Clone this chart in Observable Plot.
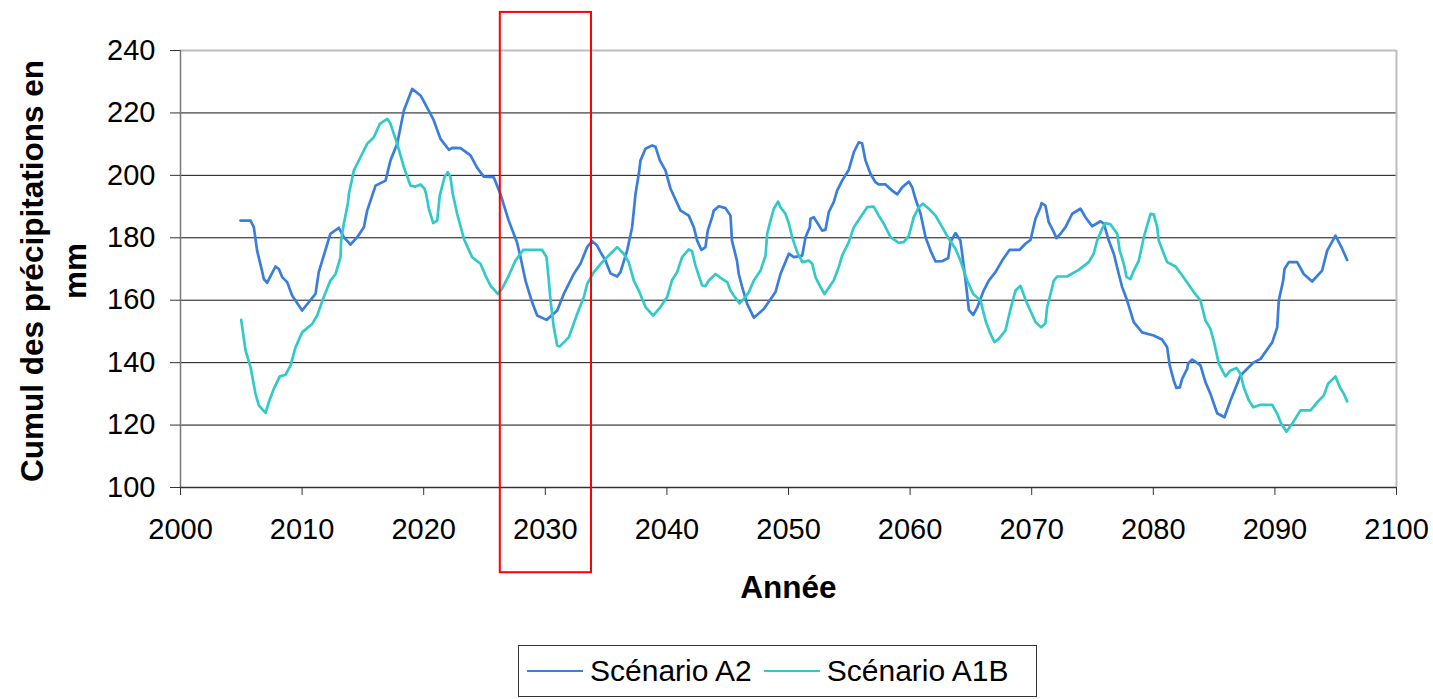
<!DOCTYPE html>
<html>
<head>
<meta charset="utf-8">
<script src="https://cdn.jsdelivr.net/npm/d3@7"></script>
<script src="https://cdn.jsdelivr.net/npm/@observablehq/plot@0.6"></script>
<style>
  body { margin: 0; background: #fff; font-family: "Liberation Sans", Arial, sans-serif; }
  #wrap { position: relative; width: 1433px; height: 699px; }
  #legend { position: absolute; left: 518px; top: 645px; width: 517px; height: 50px; border: 1.5px solid #333; background: #fff;
            display: flex; align-items: center; font-size: 30px; color: #000; }
  .sw { display: inline-block; width: 56px; height: 0; border-top: 2.5px solid; margin-left: 12px; margin-right: 7px; }
  .sw:first-child { margin-left: 8px; }
</style>
</head>
<body>
<div id="wrap"></div>
<script>
const seriesNames = ["Scénario A2", "Scénario A1B"];
const seriesColors = ["#3a7ddc", "#33c9c9"];
const xTicks = [2000, 2010, 2020, 2030, 2040, 2050, 2060, 2070, 2080, 2090, 2100];
const yTicks = [100, 120, 140, 160, 180, 200, 220, 240];
const highlight = [{x1: 2026.3, x2: 2033.8, y1: 72.7, y2: 252.2}];

const a2Years = [2004.93,2005.76,2006.03,2006.3,2006.7,2006.85,2007.13,2007.81,2008.09,2008.36,2008.77,2009.18,2010.0,2011.1,2011.37,2011.78,2012.33,2013.02,2013.43,2013.98,2014.53,2015.08,2015.35,2016.04,2016.86,2017.27,2017.82,2018.37,2019.05,2019.74,2020.56,2020.83,2021.38,2022.07,2022.34,2023.03,2023.85,2024.4,2024.94,2025.76,2026.3,2026.99,2027.67,2027.96,2028.37,2028.91,2029.33,2030.1,2030.98,2031.52,2032.34,2032.89,2033.44,2033.85,2034.26,2034.54,2034.95,2035.36,2035.91,2036.18,2036.73,2037.14,2037.42,2037.69,2037.83,2038.24,2038.79,2039.06,2039.42,2039.88,2040.3,2041.12,2041.8,2042.21,2042.49,2042.84,2043.17,2043.36,2043.72,2043.85,2044.27,2044.82,2045.23,2045.35,2045.76,2045.91,2046.19,2046.6,2047.15,2047.97,2048.93,2049.34,2050.03,2050.44,2051.13,2051.4,2051.75,2051.81,2052.08,2052.77,2053.04,2053.31,2053.72,2054.0,2054.41,2054.96,2055.37,2055.78,2056.05,2056.33,2056.74,2057.15,2057.42,2057.98,2058.53,2058.94,2059.35,2059.9,2060.17,2060.44,2060.86,2061.27,2061.68,2062.09,2062.62,2063.14,2063.32,2063.73,2064.14,2064.41,2064.69,2064.83,2065.19,2065.52,2066.05,2066.47,2067.02,2067.57,2068.17,2068.99,2069.48,2069.9,2070.31,2070.72,2070.81,2071.13,2071.4,2071.82,2072.04,2072.37,2072.78,2073.33,2074.01,2074.42,2074.97,2075.66,2075.93,2076.34,2076.75,2077.16,2077.44,2077.85,2078.39,2079.08,2080.03,2080.72,2081.14,2081.35,2081.68,2081.9,2082.18,2082.37,2082.78,2082.87,2083.2,2083.88,2084.29,2084.7,2085.25,2085.85,2086.35,2087.17,2088.26,2088.82,2089.78,2090.19,2090.32,2090.68,2090.79,2091.14,2091.83,2092.37,2093.06,2093.88,2094.3,2094.98,2095.53,2095.94];
const a2Values = [185.5,185.5,183.4,175.9,169.5,166.8,165.6,170.8,170.0,167.4,165.8,161.5,156.7,162.0,169.0,174.3,181.3,183.2,180.2,177.8,180.2,183.4,188.7,196.7,198.3,204.8,210.1,220.8,227.7,225.6,219.7,217.6,211.7,208.2,208.8,208.7,206.4,202.4,199.6,199.4,194.1,185.5,178.6,173.8,166.3,159.4,155.1,153.7,156.7,162.0,168.4,171.7,177.0,178.9,177.5,175.4,172.7,168.6,167.6,169.0,175.9,183.4,194.1,200.5,204.8,208.5,209.6,209.2,204.8,201.6,195.7,188.7,187.1,183.4,179.1,176.1,177.0,182.3,186.6,188.7,190.1,189.5,187.1,179.1,172.7,168.4,164.2,158.8,154.4,157.2,162.6,168.4,174.9,173.8,174.3,180.2,183.4,186.1,186.6,182.3,182.6,188.2,191.4,195.1,198.3,201.8,207.4,210.6,210.3,204.8,200.5,197.8,197.1,197.1,195.1,193.9,196.2,198.0,196.2,192.5,187.7,180.2,175.9,172.4,172.5,173.5,178.6,181.5,179.1,171.1,162.0,156.9,155.3,157.7,163.1,166.3,169.0,172.7,176.1,176.1,178.1,179.3,186.1,189.8,191.1,190.3,185.0,181.8,179.9,181.3,183.4,187.7,189.3,186.6,183.7,185.3,184.5,179.1,174.9,168.4,164.2,159.9,153.0,149.7,148.7,147.4,144.9,139.1,134.3,131.9,132.1,134.8,138.0,139.8,141.0,139.1,133.7,130.0,123.8,122.5,127.9,135.9,140.1,141.2,146.5,151.3,159.9,166.3,170.0,172.2,172.2,168.4,166.0,169.5,175.9,180.7,176.5,172.9];

const a1bYears = [2004.99,2005.35,2005.76,2006.17,2006.44,2006.99,2007.26,2007.67,2008.17,2008.63,2009.05,2009.46,2010.0,2010.83,2011.24,2011.78,2012.33,2012.75,2013.16,2013.21,2013.43,2013.76,2013.85,2014.26,2014.8,2015.35,2015.9,2016.39,2017.0,2017.27,2017.82,2018.37,2018.91,2019.32,2019.74,2020.07,2020.2,2020.42,2020.78,2021.11,2021.32,2021.71,2021.98,2022.2,2022.39,2022.75,2023.3,2023.98,2024.67,2025.08,2025.49,2026.09,2026.45,2027.0,2027.55,2028.18,2029.74,2030.1,2030.29,2030.43,2030.7,2030.98,2031.19,2031.93,2032.62,2033.17,2033.44,2033.99,2034.68,2035.36,2035.91,2036.45,2036.86,2037.28,2037.69,2038.24,2038.87,2039.47,2040.02,2040.43,2040.84,2041.25,2041.8,2042.07,2042.35,2042.76,2042.9,2043.17,2043.45,2044.0,2044.55,2044.96,2045.23,2045.5,2045.97,2046.33,2046.74,2047.15,2047.7,2048.11,2048.25,2048.52,2048.79,2049.15,2049.34,2049.75,2050.03,2050.3,2050.71,2051.13,2051.67,2051.95,2052.22,2052.63,2052.96,2053.72,2054.13,2054.41,2054.96,2055.37,2055.92,2056.47,2057.01,2057.42,2057.84,2058.39,2059.07,2059.48,2059.9,2060.3,2060.72,2061.05,2061.54,2062.09,2062.64,2063.18,2063.73,2064.14,2064.69,2065.19,2065.79,2066.2,2066.61,2066.94,2067.29,2067.84,2068.26,2068.67,2069.08,2069.55,2070.31,2070.78,2071.13,2071.27,2071.55,2071.82,2072.09,2072.9,2073.87,2074.69,2075.1,2075.38,2075.79,2076.06,2076.48,2077.03,2077.24,2077.57,2077.8,2078.12,2078.4,2078.81,2079.22,2079.77,2080.04,2080.32,2080.45,2080.81,2081.14,2081.83,2082.38,2083.33,2083.88,2084.29,2084.7,2085.03,2085.39,2085.94,2086.35,2086.84,2087.17,2087.44,2087.86,2088.21,2088.82,2089.78,2090.19,2090.52,2090.95,2091.42,2092.1,2092.93,2093.48,2094.03,2094.36,2094.98,2095.34,2095.67,2095.94];
const a1bValues = [153.7,143.9,138.5,130.0,126.3,123.9,127.3,131.6,135.6,136.1,139.1,144.9,149.7,152.4,155.1,161.0,166.3,168.4,173.8,179.1,184.5,190.9,194.1,201.6,205.8,210.1,212.2,216.5,218.1,216.5,210.1,202.6,196.7,196.4,197.1,195.7,194.0,189.3,184.7,185.5,193.5,199.4,201.0,199.4,194.1,187.7,179.7,173.8,171.7,167.9,164.7,162.0,163.7,167.9,172.7,176.1,176.1,173.8,166.3,159.9,151.3,145.5,145.2,148.1,155.6,161.0,165.2,169.0,172.2,174.9,177.0,174.9,172.2,166.3,163.1,157.8,155.1,157.8,161.0,166.5,169.0,173.8,176.3,175.7,171.1,166.3,164.7,164.5,166.3,168.4,166.8,165.8,163.1,161.5,159.0,160.4,162.6,166.3,169.5,174.3,181.3,185.5,189.3,191.6,189.8,187.7,184.5,180.2,175.4,172.2,172.7,171.7,167.4,164.2,162.0,166.3,170.6,174.3,178.6,183.4,186.6,189.8,190.0,187.1,184.5,180.2,178.4,178.6,180.7,186.6,189.8,190.9,189.3,187.1,183.4,179.7,176.5,172.7,166.3,162.0,159.9,153.5,149.2,146.6,147.6,150.3,157.2,163.1,164.6,159.6,153.0,151.3,152.6,157.8,162.0,166.3,167.6,167.6,169.7,172.2,174.9,179.1,182.9,184.7,184.3,181.3,175.9,171.7,167.4,166.8,169.5,172.7,180.2,187.7,187.5,183.4,179.1,175.4,172.2,170.8,167.9,162.6,159.9,153.5,150.8,146.0,139.6,135.6,137.5,138.3,136.4,132.1,127.9,125.7,126.5,126.5,123.6,120.4,117.9,120.4,124.7,124.7,127.3,129.5,133.2,135.6,132.1,130.0,127.6];

const a2 = a2Years.map((x, i) => ({year: x, value: a2Values[i], series: seriesNames[0]}));
const a1b = a1bYears.map((x, i) => ({year: x, value: a1bValues[i], series: seriesNames[1]}));

const FS = 29;
const TS = 31.5;
const chart = Plot.plot({
  width: 1433,
  height: 640,
  marginLeft: 180,
  marginRight: 37,
  marginTop: 50,
  marginBottom: 153,
  style: {fontFamily: "'Liberation Sans', Arial, sans-serif", fontSize: FS + "px", color: "#000", background: "#fff"},
  x: {domain: [2000, 2100]},
  y: {domain: [100, 240]},
  marks: [
    Plot.ruleY(yTicks.filter(d => d > 100 && d < 240), {stroke: "#111", strokeWidth: 1}),
    Plot.ruleY([240], {stroke: "#bdbdbd", strokeWidth: 2}),
    Plot.ruleX([2100], {stroke: "#bdbdbd", strokeWidth: 2}),
    Plot.ruleX([2000], {stroke: "#777", strokeWidth: 1.5}),
    Plot.ruleY([100], {stroke: "#333", strokeWidth: 1.5}),
    Plot.axisY({ticks: yTicks, tickSize: 10, tickPadding: 15, label: null, fontSize: FS, stroke: "#333"}),
    Plot.axisX({ticks: xTicks, tickSize: 8, tickPadding: 23, label: null, fontSize: FS, tickFormat: d => String(d), stroke: "#333"}),
    Plot.line(a2, {x: "year", y: "value", stroke: seriesColors[0], strokeWidth: 2.7}),
    Plot.line(a1b, {x: "year", y: "value", stroke: seriesColors[1], strokeWidth: 2.7}),
    Plot.rect(highlight, {x1: "x1", x2: "x2", y1: "y1", y2: "y2", fill: "none", stroke: "#ff0000", strokeWidth: 2, clip: false}),
    Plot.text(["Cumul des précipitations en\nmm"], {frameAnchor: "left", textAnchor: "middle", lineAnchor: "middle", rotate: -90, dx: -130, dy: 2, fontWeight: "bold", fontSize: TS, lineHeight: 1.37}),
    Plot.text(["Année"], {frameAnchor: "bottom", textAnchor: "middle", dy: 110, fontWeight: "bold", fontSize: TS})
  ]
});
const wrap = document.getElementById("wrap");
wrap.appendChild(chart);

const legend = document.createElement("div");
legend.id = "legend";
seriesNames.forEach((name, i) => {
  const sw = document.createElement("span");
  sw.className = "sw";
  sw.style.borderTopColor = seriesColors[i];
  const t = document.createElement("span");
  t.textContent = name;
  legend.appendChild(sw);
  legend.appendChild(t);
});
wrap.appendChild(legend);
</script>
</body>
</html>
